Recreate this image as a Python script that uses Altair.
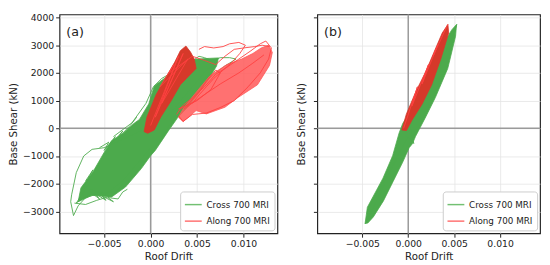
import altair as alt
import pandas as pd

# ---------------- data ----------------
# Panel (a): dense green region (Cross 700 MRI)
A_GREEN_FILL_X = [-0.0078, -0.0075, -0.0062, -0.0050, -0.0042, -0.0030, -0.0018, -0.0012, -0.0002,
                  0.0004, 0.0020, 0.0035, 0.0048, 0.0060, 0.0073, 0.0071, 0.0061, 0.0051, 0.0041,
                  0.0029, 0.0019, 0.0011, 0.0005, 0.0000, -0.0010, -0.0027, -0.0042, -0.0063]
A_GREEN_FILL_Y = [-2650, -2150, -1570, -870, -450, -200, 175, 320, 880,
                  1530, 1930, 2260, 2490, 2520, 2540, 2250, 1700, 1250, 800,
                  380, -100, -500, -800, -990, -1455, -2120, -2480, -2420]

# Panel (a): dense red band (Along 700 MRI)
A_RED_FILL_X = [-0.0007, -0.0004, 0.0006, 0.0016, 0.0026, 0.0032, 0.0038, 0.0043, 0.0047,
                0.0049, 0.0040, 0.0032, 0.0022, 0.0011, 0.0004, -0.0003]
A_RED_FILL_Y = [-120, 400, 1220, 1810, 2390, 2800, 2970, 2750, 2500,
                2160, 1850, 1570, 990, 410, -60, -180]

# Panel (a): lighter red cloud
A_RED_CLOUD_X = [0.0036, 0.0050, 0.0064, 0.0082, 0.0098, 0.0110, 0.0119, 0.0127, 0.0131,
                 0.0128, 0.0115, 0.0094, 0.0080, 0.0060, 0.0049, 0.0035, 0.0030]
A_RED_CLOUD_Y = [760, 1340, 1900, 2300, 2500, 2700, 2900, 3000, 2740,
                 2270, 1570, 1110, 760, 520, 640, 240, 400]

# Panel (a): individual hysteresis loops
A_GREEN_LOOPS = [
    ([-0.0005, -0.0030, -0.0050, -0.0063, -0.0072, -0.0080, -0.0085, -0.0086, -0.0083, -0.0078,
      -0.0070, -0.0060, -0.0045, -0.0030, -0.0015, 0.0000],
     [0, -400, -700, -760, -1000, -1600, -2400, -2650, -3150, -2800,
      -2500, -2400, -2300, -1900, -1300, -700]),
    ([-0.0082, -0.0070, -0.0058, -0.0048, -0.0040, -0.0030, -0.0036, -0.0050, -0.0066],
     [-2700, -2750, -2600, -2500, -2400, -2000, -2250, -2350, -2200]),
    ([-0.0040, -0.0020, -0.0005, 0.0003, 0.0012, 0.0025, 0.0040, 0.0052, 0.0058, 0.0066,
      0.0075, 0.0085, 0.0092, 0.0080, 0.0070, 0.0060, 0.0050, 0.0040],
     [-300, 200, 900, 1500, 1800, 2050, 2300, 2600, 2550, 2450,
      2550, 2550, 2500, 2250, 2000, 1700, 1300, 900]),
    ([0.0015, 0.0030, 0.0045, 0.0060, 0.0068, 0.0072, 0.0065, 0.0055, 0.0040, 0.0025],
     [300, 900, 1500, 2100, 2300, 2500, 2000, 1500, 900, 400]),
    ([-0.0070, -0.0062, -0.0075, -0.0066, -0.0080, -0.0072, -0.0058, -0.0045],
     [-1900, -1500, -2300, -2000, -2700, -2500, -2300, -2450]),
    ([-0.0065, -0.0055, -0.0060, -0.0048, -0.0052, -0.0040, -0.0046, -0.0035, -0.0030, -0.0025],
     [-2300, -2550, -2350, -2600, -2450, -2650, -2500, -2550, -2300, -2200]),
    ([-0.0055, -0.0045, -0.0050, -0.0038, -0.0043, -0.0030, -0.0035, -0.0022, -0.0015],
     [-700, -500, -800, -300, -600, -100, -350, 100, 400]),
    ([0.0010, 0.0020, 0.0012, 0.0022, 0.0030, 0.0025, 0.0035, 0.0045, 0.0052, 0.0062],
     [-500, 0, -300, 200, 500, 300, 700, 1100, 1500, 1950]),
]
A_RED_LOOPS = [
    ([0.0052, 0.0058, 0.0068, 0.0078, 0.0085, 0.0095, 0.0102, 0.0096, 0.0088, 0.0078,
      0.0068, 0.0060, 0.0052, 0.0045],
     [2850, 2950, 2900, 2950, 3050, 3100, 3000, 2700, 2400, 2100,
      1800, 1500, 1200, 900]),
    ([0.0028, 0.0034, 0.0045, 0.0058, 0.0070, 0.0082, 0.0095, 0.0108, 0.0118, 0.0124,
      0.0130, 0.0127, 0.0118, 0.0105, 0.0090, 0.0075, 0.0060, 0.0045, 0.0035, 0.0030],
     [500, 800, 1100, 1500, 1950, 2200, 2500, 2800, 3050, 3150,
      2900, 2500, 2000, 1500, 1000, 750, 550, 500, 250, 450]),
    ([0.0030, 0.0050, 0.0065, 0.0075, 0.0070, 0.0060, 0.0052, 0.0040, 0.0032],
     [700, 1000, 1400, 2000, 2100, 1700, 1300, 850, 700]),
    ([0.0045, 0.0058, 0.0070, 0.0080, 0.0090, 0.0100, 0.0112, 0.0120, 0.0128],
     [2600, 2450, 2300, 2600, 2850, 2900, 2950, 3000, 2950]),
    ([0.0000, 0.0030, 0.0005, 0.0035, 0.0012, 0.0040, 0.0010, 0.0025, 0.0020, 0.0045],
     [100, 2600, 400, 2700, 900, 2500, 1500, 2300, 2000, 2600]),
    ([0.0036, 0.0055, 0.0075, 0.0095, 0.0110, 0.0122],
     [700, 1150, 1600, 2000, 2350, 2650]),
]

# Panel (b): dense green band
B_GREEN_FILL_X = [-0.00470, -0.00445, -0.00275, -0.00170, -0.00100, -0.00060, 0.00010, 0.00115,
                  0.00255, 0.00365, 0.00475, 0.00526, 0.00515, 0.00430, 0.00295, 0.00190,
                  0.00080, 0.00045, 0.00010, -0.00060, -0.00165, -0.00270, -0.00380, -0.00440]
B_GREEN_FILL_Y = [-3440, -2850, -1800, -990, -175, 175, 520, 1340,
                  2160, 2970, 3560, 3750, 3320, 2160, 1110, 410,
                  -290, -560, -700, -1220, -1920, -2620, -3200, -3420]

# Panel (b): dense red band
B_RED_FILL_X = [-0.00070, -0.00020, 0.00085, 0.00190, 0.00295, 0.00370, 0.00432,
                0.00440, 0.00355, 0.00255, 0.00150, 0.00040, -0.00020]
B_RED_FILL_Y = [-60, 520, 1340, 2040, 2860, 3440, 3750,
                3440, 2510, 1570, 870, 290, -80]

B_GREEN_LOOPS = [
    ([-0.0047, -0.0035, -0.0042, -0.0025, -0.0032, -0.0012, -0.0020, 0.0000, 0.0006, 0.0002,
      0.0020, 0.0035, 0.0048, 0.0053],
     [-3450, -2700, -3100, -2000, -2300, -1100, -1500, -300, -550, 100,
      1100, 2300, 3300, 3750]),
]
B_RED_LOOPS = [
    ([-0.0005, 0.0010, 0.0004, 0.0022, 0.0015, 0.0032, 0.0027, 0.0043],
     [0, 1500, 800, 2300, 1600, 3000, 2600, 3750]),
]

SERIES = ["Cross 700 MRI", "Along 700 MRI"]
Y_TICKS = [-3000, -2000, -1000, 0, 1000, 2000, 3000, 4000]
X_TICKS = [-0.005, 0.0, 0.005, 0.010]
A_X_DOMAIN = [-0.0098, 0.01365]
B_X_DOMAIN = [-0.0099, 0.01435]
Y_DOMAIN = [-3790, 4110]

# ---------------- styling ----------------
GREEN = "#4caa4c"
RED_DENSE = "#d6392a"
RED_LIGHT = "#ff5858"
LEG_GREEN = "#72c072"
LEG_RED = "#ff7070"
FONT = "DejaVu Sans"


def poly_df(xs, ys):
    return pd.DataFrame({"x": xs, "y": ys, "i": list(range(len(xs)))})


def loops_df(loops, series, tag):
    rows = []
    for k, (xs, ys) in enumerate(loops):
        for i, (x, y) in enumerate(zip(xs, ys)):
            rows.append({"x": x, "y": y, "i": i, "loop": f"{tag}{k}", "series": series})
    return pd.DataFrame(rows)


def panel(xdom, green_fill, red_fill, red_cloud, g_loops, r_loops, label, show_labels):
    xs = alt.Scale(domain=xdom, nice=False, zero=False)
    ys = alt.Scale(domain=Y_DOMAIN, nice=False, zero=False)
    xax = alt.Axis(values=X_TICKS, format=".3f", title="Roof Drift")
    yax = alt.Axis(values=Y_TICKS, format="d", title="Base Shear (kN)",
                   labels=show_labels, titlePadding=4 if show_labels else 7)
    X = alt.X("x:Q", scale=xs, axis=xax)
    Y = alt.Y("y:Q", scale=ys, axis=yax)

    zero_df = pd.DataFrame({"v": [0.0]})
    vline = alt.Chart(zero_df).mark_rule(color="#9a9a9a", strokeWidth=1.5).encode(
        x=alt.X("v:Q", scale=xs, axis=xax))
    hline = alt.Chart(zero_df).mark_rule(color="#9a9a9a", strokeWidth=1.5).encode(
        y=alt.Y("v:Q", scale=ys, axis=yax))

    layers = [vline, hline]

    def poly(df, color, op):
        return alt.Chart(df).mark_line(
            interpolate="linear-closed", fill=color, stroke=color, fillOpacity=op,
            strokeWidth=0.8, clip=True
        ).encode(x=X, y=Y, order="i:Q")

    layers.append(poly(poly_df(*green_fill), GREEN, 1.0))
    color = alt.Color("series:N", scale=alt.Scale(domain=SERIES, range=[LEG_GREEN, LEG_RED]),
                      legend=alt.Legend(title=None, orient="bottom-right"))
    gl = loops_df(g_loops, SERIES[0], "g")
    layers.append(alt.Chart(gl).mark_line(strokeWidth=0.9, clip=True, color=GREEN).encode(
        x=X, y=Y, order="i:Q", detail="loop:N"))
    if red_cloud is not None:
        layers.append(poly(poly_df(*red_cloud), RED_LIGHT, 0.85))
    layers.append(poly(poly_df(*red_fill), RED_DENSE, 1.0))
    rl = loops_df(r_loops, SERIES[1], "r")
    layers.append(alt.Chart(rl).mark_line(strokeWidth=0.9, clip=True, color="#ff4040").encode(
        x=X, y=Y, order="i:Q", detail="loop:N"))
    # legend carrier layer
    leg = pd.concat([gl.head(1), rl.head(1)])
    layers.append(alt.Chart(leg).mark_line(strokeWidth=1.5, opacity=0).encode(
        x=X, y=Y, color=color, detail="loop:N"))
    layers.append(alt.Chart(pd.DataFrame({"t": [label]})).mark_text(
        align="left", baseline="middle", fontSize=13, font=FONT, color="#222"
    ).encode(x=alt.value(7), y=alt.value(18), text="t:N"))
    return alt.layer(*layers)


pa = panel(A_X_DOMAIN, (A_GREEN_FILL_X, A_GREEN_FILL_Y), (A_RED_FILL_X, A_RED_FILL_Y),
           (A_RED_CLOUD_X, A_RED_CLOUD_Y), A_GREEN_LOOPS, A_RED_LOOPS, "(a)", True
           ).properties(width=224, height=225)
pb = panel(B_X_DOMAIN, (B_GREEN_FILL_X, B_GREEN_FILL_Y), (B_RED_FILL_X, B_RED_FILL_Y),
           None, B_GREEN_LOOPS, B_RED_LOOPS, "(b)", False
           ).properties(width=229, height=225)

chart = alt.hconcat(pa, pb, spacing=16).resolve_scale(color="independent").resolve_legend(
    color="independent"
).properties(padding=0).configure_view(
    stroke="#222", strokeWidth=1.2
).configure_axis(
    grid=True, gridColor="#e4e4e4", gridWidth=0.8, domain=False,
    tickColor="#222", tickSize=4, tickWidth=1,
    labelFont=FONT, labelFontSize=9.5, labelColor="#222", labelPadding=2,
    titleFont=FONT, titleFontSize=10.5, titleColor="#222", titleFontWeight="normal",
).configure_axisX(titlePadding=3).configure_legend(
    orient="bottom-right", offset=3, padding=4, rowPadding=2,
    strokeColor="#cccccc", fillColor="white", cornerRadius=3,
    symbolType="stroke", symbolSize=300, symbolStrokeWidth=1.5, symbolOpacity=1,
    labelFont=FONT, labelFontSize=9, labelColor="#222",
)

chart.save("out.html", embed_options={"renderer": "svg", "actions": False})
